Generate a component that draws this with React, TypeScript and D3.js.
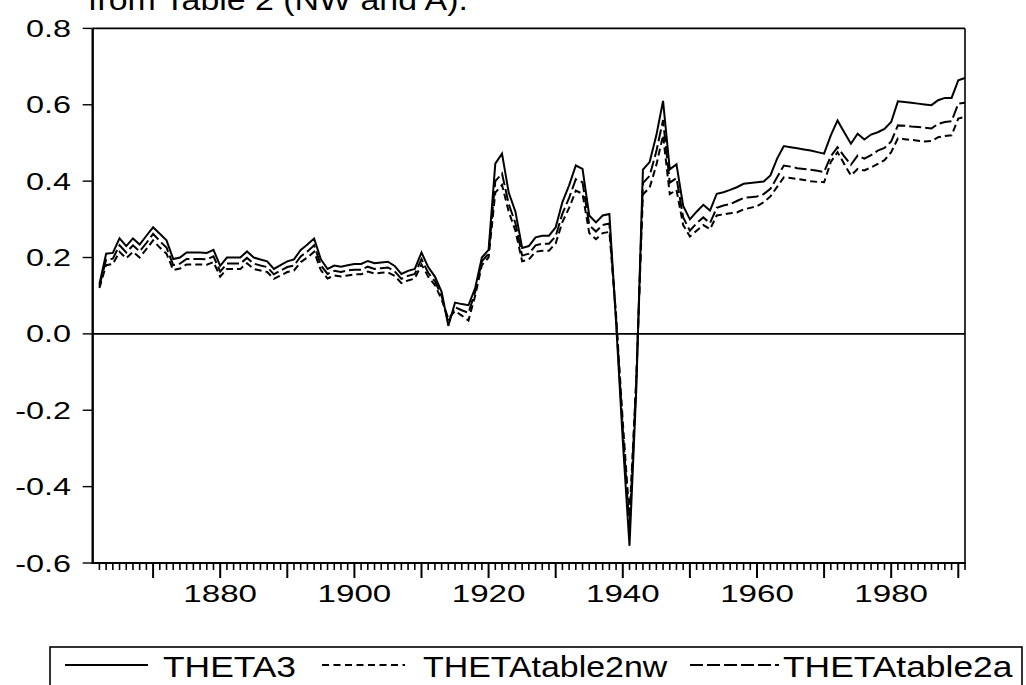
import React from "react";
import * as d3 from "d3";

// ---------- data ----------
const FIRST_YEAR = 1862;

// THETA3 (solid), 1862–1991
const theta3 = [
  0.130, 0.210, 0.212, 0.250, 0.230, 0.250, 0.234, 0.257, 0.279,
  0.262, 0.245, 0.196, 0.200, 0.213, 0.213, 0.213, 0.212, 0.220, 0.178,
  0.200, 0.200, 0.200, 0.216, 0.200, 0.195, 0.190, 0.170, 0.180, 0.190,
  0.195, 0.220, 0.234, 0.250, 0.195, 0.170, 0.179, 0.176, 0.180, 0.183,
  0.183, 0.191, 0.185, 0.187, 0.189, 0.178, 0.157, 0.165, 0.170, 0.213,
  0.175, 0.150, 0.110, 0.021, 0.082, 0.078, 0.075, 0.120, 0.200, 0.220,
  0.446, 0.472, 0.370, 0.320, 0.225, 0.230, 0.253, 0.257, 0.257, 0.279,
  0.345, 0.389, 0.441, 0.432, 0.310, 0.292, 0.310, 0.314, 0.030, -0.280,
  -0.555, -0.150, 0.430, 0.450, 0.520, 0.610, 0.431, 0.444, 0.335, 0.300,
  0.320, 0.338, 0.323, 0.367, 0.371, 0.377, 0.384, 0.393, 0.395, 0.397,
  0.399, 0.415, 0.459, 0.492, 0.489, 0.486, 0.483, 0.480, 0.476, 0.472,
  0.520, 0.559, 0.528, 0.498, 0.524, 0.509, 0.522, 0.528, 0.537, 0.555,
  0.609, 0.607, 0.605, 0.603, 0.601, 0.599, 0.612, 0.618, 0.618, 0.664,
  0.670,
];

// THETAtable2a (long dashes), 1862–1991
const thetaTable2a = [
  0.125, 0.195, 0.197, 0.232, 0.213, 0.232, 0.216, 0.238, 0.262,
  0.243, 0.226, 0.180, 0.184, 0.196, 0.196, 0.196, 0.195, 0.203, 0.163,
  0.184, 0.184, 0.184, 0.199, 0.184, 0.179, 0.175, 0.156, 0.166, 0.175,
  0.179, 0.203, 0.216, 0.232, 0.180, 0.157, 0.165, 0.162, 0.166, 0.168,
  0.168, 0.176, 0.170, 0.172, 0.174, 0.164, 0.144, 0.152, 0.157, 0.196,
  0.160, 0.138, 0.100, 0.030, 0.070, 0.062, 0.055, 0.110, 0.190, 0.210,
  0.400, 0.420, 0.340, 0.290, 0.205, 0.210, 0.232, 0.236, 0.236, 0.256,
  0.315, 0.356, 0.405, 0.397, 0.285, 0.268, 0.285, 0.289, 0.040, -0.250,
  -0.510, -0.130, 0.395, 0.414, 0.478, 0.560, 0.396, 0.408, 0.305, 0.270,
  0.290, 0.305, 0.290, 0.330, 0.336, 0.340, 0.348, 0.356, 0.358, 0.360,
  0.366, 0.380, 0.410, 0.441, 0.438, 0.434, 0.432, 0.430, 0.427, 0.424,
  0.465, 0.489, 0.465, 0.443, 0.467, 0.459, 0.468, 0.480, 0.487, 0.504,
  0.546, 0.545, 0.543, 0.542, 0.540, 0.538, 0.550, 0.555, 0.557, 0.603,
  0.605,
];

// THETAtable2nw (short dashes), 1862–1991
const thetaTable2nw = [
  0.120, 0.180, 0.183, 0.215, 0.198, 0.215, 0.200, 0.222, 0.245,
  0.226, 0.210, 0.167, 0.171, 0.182, 0.182, 0.182, 0.181, 0.188, 0.150,
  0.170, 0.170, 0.170, 0.185, 0.170, 0.166, 0.162, 0.144, 0.153, 0.162,
  0.166, 0.188, 0.200, 0.215, 0.167, 0.145, 0.153, 0.150, 0.153, 0.156,
  0.156, 0.163, 0.158, 0.160, 0.161, 0.152, 0.133, 0.140, 0.145, 0.182,
  0.150, 0.128, 0.090, 0.040, 0.060, 0.048, 0.035, 0.100, 0.180, 0.200,
  0.370, 0.390, 0.320, 0.270, 0.190, 0.195, 0.215, 0.218, 0.218, 0.237,
  0.293, 0.330, 0.375, 0.367, 0.264, 0.248, 0.264, 0.267, 0.050, -0.230,
  -0.480, -0.120, 0.365, 0.383, 0.442, 0.520, 0.366, 0.377, 0.285, 0.255,
  0.270, 0.285, 0.274, 0.310, 0.313, 0.316, 0.318, 0.326, 0.330, 0.334,
  0.345, 0.360, 0.385, 0.410, 0.408, 0.406, 0.403, 0.400, 0.398, 0.397,
  0.450, 0.476, 0.445, 0.415, 0.432, 0.428, 0.436, 0.445, 0.455, 0.476,
  0.512, 0.510, 0.508, 0.506, 0.504, 0.505, 0.515, 0.518, 0.520, 0.564,
  0.568,
];

const yTicks = [0.8, 0.6, 0.4, 0.2, 0.0, -0.2, -0.4, -0.6];
const xLabelYears = [1880, 1900, 1920, 1940, 1960, 1980];
const titleText = "from Table 2 (NW and A).";
const legendLabels = ["THETA3", "THETAtable2nw", "THETAtable2a"];

// ---------- layout ----------
const W = 1026;
const H = 685;
const X0 = 92.7;
const X1 = 965;
const Y0 = 28.4;
const Y1 = 563;
const FONT = "'Liberation Sans', Arial, Helvetica, sans-serif";

export default function App() {
  const x = d3.scaleLinear().domain([1861, 1991]).range([X0, X1]);
  const y = d3.scaleLinear().domain([-0.6, 0.8]).range([Y1, Y0]);
  const line = d3
    .line<number>()
    .x((_, i) => x(FIRST_YEAR + i))
    .y((d) => y(d));

  const allYears = d3.range(1862, 1992);

  const series = [
    { values: thetaTable2nw, dash: "7,4" },
    { values: thetaTable2a, dash: "12,4" },
    { values: theta3, dash: null as string | null },
  ];

  return (
    <div style={{ position: "fixed", left: 0, top: 0, width: W, height: H, overflow: "hidden", background: "#fff" }}>
      <svg width={W} height={H} style={{ display: "block" }} fontFamily={FONT}>
        <rect x={0} y={0} width={W} height={H} fill="#fff" />
        {/* title, partly cut off at the top */}
        <text
          transform={`translate(88,10) scale(1.13,1)`}
          fontSize={30}
          fill="#000"
        >
          {titleText}
        </text>

        {/* zero line */}
        <line x1={X0} x2={X1} y1={y(0)} y2={y(0)} stroke="#000" strokeWidth={1.6} />

        {/* series */}
        {series.map((s, i) => (
          <path
            key={i}
            d={line(s.values) || ""}
            fill="none"
            stroke="#000"
            strokeWidth={2}
            strokeDasharray={s.dash || undefined}
            strokeLinejoin="miter"
          />
        ))}

        {/* frame */}
        <line x1={X0} x2={X1} y1={Y0} y2={Y0} stroke="#000" strokeWidth={1.6} />
        <line x1={X1} x2={X1} y1={Y0} y2={Y1} stroke="#000" strokeWidth={1.6} />
        <line x1={X0} x2={X0} y1={Y0} y2={Y1 + 1} stroke="#000" strokeWidth={2.4} />
        <line x1={X0 - 1} x2={X1 + 1} y1={Y1} y2={Y1} stroke="#000" strokeWidth={2.2} />

        {/* y ticks and labels */}
        {yTicks.map((t) => (
          <g key={t}>
            <line x1={X0 - 10} x2={X0} y1={y(t)} y2={y(t)} stroke="#000" strokeWidth={1.4} />
            <text
              transform={`translate(71,${y(t) + 8.5}) scale(1.35,1)`}
              textAnchor="end"
              fontSize={24}
              fill="#000"
            >
              {t.toFixed(1)}
            </text>
          </g>
        ))}

        {/* x ticks */}
        {allYears.map((yr) => (
          <line
            key={yr}
            x1={x(yr)}
            x2={x(yr)}
            y1={Y1}
            y2={Y1 + (yr % 10 === 0 ? 15 : 7)}
            stroke="#000"
            strokeWidth={yr % 10 === 0 ? 2 : 1.6}
          />
        ))}
        {xLabelYears.map((yr) => (
          <text
            key={yr}
            transform={`translate(${x(yr)},601.5) scale(1.38,1)`}
            textAnchor="middle"
            fontSize={24}
            fill="#000"
          >
            {yr}
          </text>
        ))}

        {/* legend */}
        <rect x={50} y={647} width={972} height={60} fill="none" stroke="#000" strokeWidth={1.6} />
        <line x1={65} x2={148} y1={665} y2={665} stroke="#000" strokeWidth={2} />
        <text transform="translate(163,677) scale(1.18,1)" fontSize={30} fill="#000">
          {legendLabels[0]}
        </text>
        <line x1={322} x2={405} y1={665} y2={665} stroke="#000" strokeWidth={2} strokeDasharray="7,4.5" />
        <text transform="translate(423,677) scale(1.13,1)" fontSize={30} fill="#000">
          {legendLabels[1]}
        </text>
        <line x1={690} x2={779} y1={665} y2={665} stroke="#000" strokeWidth={2} strokeDasharray="13,4" />
        <text transform="translate(783,677) scale(1.18,1)" fontSize={30} fill="#000">
          {legendLabels[2]}
        </text>
      </svg>
    </div>
  );
}
